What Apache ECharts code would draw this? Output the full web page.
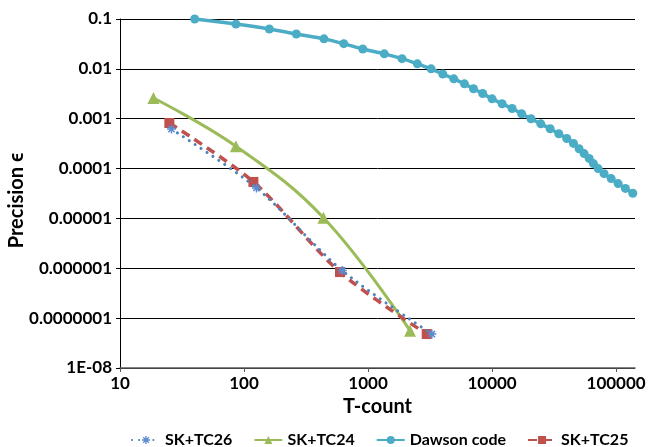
<!DOCTYPE html>
<html>
<head>
<meta charset="utf-8">
<script src="https://cdn.jsdelivr.net/npm/echarts@6/dist/echarts.min.js"></script>
<style>
html,body{margin:0;padding:0;background:#fff;}
#chart{width:649px;height:447px;}
</style>
</head>
<body>
<div id="chart"></div>
<script>
// ---- data ----
const dawsonX = [40, 86, 160, 264, 441, 637, 906, 1352, 1878, 2498, 3222, 4000, 4910, 5985, 7080, 8400, 10000, 12050, 14500, 17300, 20600, 24700, 29400, 34500, 40000, 45300, 50300, 55200, 60600, 65600, 71600, 80000, 91200, 103800, 118800, 136300];
const dawsonY = [0.1, 0.079, 0.063, 0.05, 0.04, 0.032, 0.025, 0.02, 0.016, 0.0126, 0.01, 0.0079, 0.0063, 0.005, 0.004, 0.0032, 0.0025, 0.002, 0.0016, 0.00126, 0.001, 0.00079, 0.00063, 0.0005, 0.0004, 0.00032, 0.00025, 0.0002, 0.00016, 0.000126, 0.0001, 0.000079, 0.000063, 0.00005, 0.00004, 0.000032];
const tc24X = [18.6, 86, 437, 2180];
const tc24Y = [0.0026, 0.00028, 0.0000103, 0.000000056];
const tc25X = [25, 119, 594, 2970];
const tc25Y = [0.00082, 0.000054, 0.00000084, 0.000000048];
const tc26X = [26, 126, 620, 3270];
const tc26Y = [0.00062, 0.000041, 0.0000009, 0.000000048];
const seriesNames = ['SK+TC26', 'SK+TC24', 'Dawson code', 'SK+TC25'];
const xTickValues = [10, 100, 1000, 10000, 100000];
const xTickLabels = ['10', '100', '1000', '10000', '100000'];
const yTickValues = [1e-8, 1e-7, 1e-6, 1e-5, 1e-4, 1e-3, 1e-2, 1e-1];
const yTickLabels = ['1E-08', '0.0000001', '0.000001', '0.00001', '0.0001', '0.001', '0.01', '0.1'];
const xTitle = 'T-count';
const yTitle = 'Precision \u03F5';

function pairs(xs, ys) { return xs.map((x, i) => [x, ys[i]]); }

const FONT = 'Lato, "Open Sans", sans-serif';
const asterisk = 'path://M-1,-6L1,-6L1,6L-1,6Z M-6,-1L6,-1L6,1L-6,1Z M-4.9,-3.5L-3.5,-4.9L4.9,3.5L3.5,4.9Z M3.5,-4.9L4.9,-3.5L-3.5,4.9L-4.9,3.5Z';

const chart = echarts.init(document.getElementById('chart'), null, {renderer: 'canvas'});
chart.setOption({
  animation: false,
  backgroundColor: '#ffffff',
  grid: {left: 120, right: 14, top: 19, bottom: 79, containLabel: false, outerBoundsMode: 'none'},
  legend: {
    top: 427,
    left: 126,
    itemWidth: 28,
    itemHeight: 10,
    itemGap: 21,
    data: seriesNames,
    textStyle: {fontFamily: FONT, fontWeight: 'bold', fontSize: 16, color: '#000'}
  },
  xAxis: {
    type: 'log',
    logBase: 10,
    min: 10,
    max: 142000,
    name: xTitle,
    nameLocation: 'middle',
    nameGap: 29,
    nameMoveOverlap: false,
    nameTextStyle: {fontFamily: FONT, fontWeight: 'bold', fontSize: 20, color: '#000'},
    axisLine: {show: true, lineStyle: {color: '#595959', width: 1.5}},
    axisTick: {show: true, length: 4, lineStyle: {color: '#595959'}, customValues: xTickValues},
    axisLabel: {
      fontFamily: FONT, fontWeight: 'bold', fontSize: 17, color: '#000', margin: 7,
      customValues: xTickValues,
      formatter: v => { const i = xTickValues.findIndex(t => Math.abs(t - v) / t < 1e-6); return i >= 0 ? xTickLabels[i] : ''; }
    },
    splitLine: {show: false}
  },
  yAxis: {
    type: 'log',
    logBase: 10,
    min: 1e-8,
    max: 0.1,
    name: yTitle,
    nameLocation: 'middle',
    nameGap: 93,
    nameRotate: 90,
    nameMoveOverlap: false,
    nameTextStyle: {fontFamily: FONT, fontWeight: 'bold', fontSize: 20, color: '#000', padding: [0, 14, 0, 0]},
    axisLine: {show: true, lineStyle: {color: '#000', width: 1}},
    axisTick: {show: true, length: 4, inside: false, lineStyle: {color: '#000'}},
    axisLabel: {
      fontFamily: FONT, fontWeight: 'bold', fontSize: 17, color: '#000', margin: 8,
      formatter: v => { const i = yTickValues.findIndex(t => Math.abs(t - v) / t < 1e-6); return i >= 0 ? yTickLabels[i] : ''; }
    },
    splitLine: {show: true, lineStyle: {color: '#000', width: 1}}
  },
  series: [
    {
      name: seriesNames[0], type: 'line', smooth: 0.3, z: 4,
      data: pairs(tc26X, tc26Y),
      symbol: asterisk, symbolSize: 9,
      itemStyle: {color: '#5B8CD0'},
      lineStyle: {color: '#4F81BD', width: 3, type: [0.1, 7], cap: 'round'}
    },
    {
      name: seriesNames[1], type: 'line', smooth: 0.4, z: 3,
      data: pairs(tc24X, tc24Y),
      symbol: 'triangle', symbolSize: 12,
      itemStyle: {color: '#9BBB59'},
      lineStyle: {color: '#9BBB59', width: 3}
    },
    {
      name: seriesNames[2], type: 'line', smooth: 0.3, z: 5,
      data: pairs(dawsonX, dawsonY),
      symbol: 'circle', symbolSize: 9,
      itemStyle: {color: '#4BACC6'},
      lineStyle: {color: '#4BACC6', width: 3.5}
    },
    {
      name: seriesNames[3], type: 'line', smooth: 0.3, z: 3,
      data: pairs(tc25X, tc25Y),
      symbol: 'rect', symbolSize: 10,
      itemStyle: {color: '#C0504D'},
      lineStyle: {color: '#C0504D', width: 3.5, type: [9, 6]}
    }
  ]
});
</script>
</body>
</html>
